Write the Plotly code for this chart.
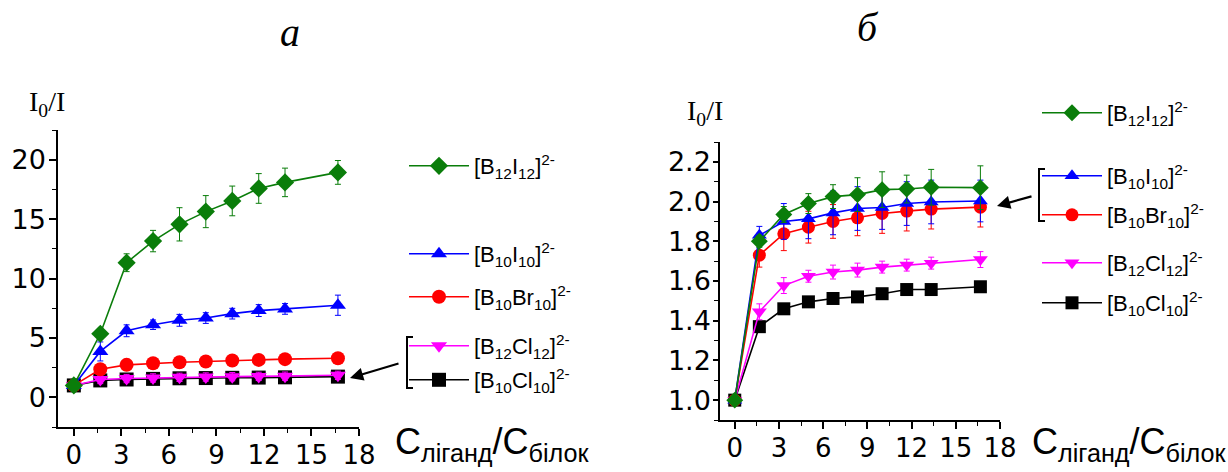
import plotly.graph_objects as go

W, H = 1228, 472

# ---- data ----
x_ratio = [0, 1.67, 3.33, 5, 6.67, 8.33, 10, 11.67, 13.33, 16.67]

names = ["[B<sub>12</sub>I<sub>12</sub>]<sup>2-</sup>",
         "[B<sub>10</sub>I<sub>10</sub>]<sup>2-</sup>",
         "[B<sub>10</sub>Br<sub>10</sub>]<sup>2-</sup>",
         "[B<sub>12</sub>Cl<sub>12</sub>]<sup>2-</sup>",
         "[B<sub>10</sub>Cl<sub>10</sub>]<sup>2-</sup>"]
colors = ["#0a7d0a", "#0000ff", "#ff0000", "#ff00ff", "#000000"]
symbols = ["diamond", "triangle-up", "circle", "triangle-down", "square"]

a_B12I12 = [1.0, 5.35, 11.33, 13.15, 14.56, 15.63, 16.53, 17.58, 18.09, 18.93]
a_B12I12_err = [0.2, 0.3, 0.75, 0.9, 1.4, 1.35, 1.25, 1.25, 1.2, 1.0]
a_B10I10 = [1.0, 3.86, 5.6, 6.11, 6.48, 6.67, 7.04, 7.3, 7.44, 7.75]
a_B10I10_err = [0.3, 0.8, 0.5, 0.4, 0.5, 0.45, 0.45, 0.5, 0.45, 0.85]
a_B10Br10 = [1.0, 2.36, 2.73, 2.87, 2.95, 3.01, 3.1, 3.15, 3.21, 3.29]
a_B10Br10_err = [0.1, 0.3, 0.2, 0.2, 0.2, 0.2, 0.2, 0.2, 0.2, 0.2]
a_B12Cl12 = [1.0, 1.5, 1.58, 1.63, 1.68, 1.71, 1.74, 1.76, 1.78, 1.85]
a_B12Cl12_err = [0.2, 0.35, 0.35, 0.35, 0.35, 0.35, 0.35, 0.35, 0.35, 0.35]
a_B10Cl10 = [1.0, 1.42, 1.5, 1.55, 1.6, 1.62, 1.64, 1.66, 1.68, 1.74]
a_B10Cl10_err = [0.1, 0.1, 0.1, 0.1, 0.1, 0.1, 0.1, 0.1, 0.1, 0.1]

b_B12I12 = [1.0, 1.80, 1.935, 1.99, 2.025, 2.035, 2.06, 2.063, 2.072, 2.07]
b_B12I12_err = [0.01, 0.03, 0.04, 0.05, 0.06, 0.085, 0.09, 0.07, 0.09, 0.11]
b_B10I10 = [1.0, 1.83, 1.90, 1.913, 1.943, 1.965, 1.97, 1.99, 1.998, 2.003]
b_B10I10_err = [0.01, 0.045, 0.09, 0.1, 0.11, 0.11, 0.11, 0.11, 0.11, 0.105]
b_B10Br10 = [1.0, 1.73, 1.838, 1.871, 1.90, 1.918, 1.94, 1.952, 1.962, 1.972]
b_B10Br10_err = [0.01, 0.06, 0.085, 0.08, 0.085, 0.09, 0.1, 0.1, 0.1, 0.1]
b_B12Cl12 = [1.0, 1.445, 1.577, 1.624, 1.645, 1.655, 1.67, 1.68, 1.69, 1.708]
b_B12Cl12_err = [0.01, 0.04, 0.04, 0.03, 0.035, 0.035, 0.03, 0.03, 0.03, 0.04]
b_B10Cl10 = [1.0, 1.37, 1.46, 1.495, 1.512, 1.52, 1.536, 1.557, 1.557, 1.571]
b_B10Cl10_err = [0.005, 0.01, 0.01, 0.01, 0.01, 0.01, 0.01, 0.01, 0.01, 0.01]

panel_a = [(a_B12I12, a_B12I12_err), (a_B10I10, a_B10I10_err), (a_B10Br10, a_B10Br10_err),
           (a_B12Cl12, a_B12Cl12_err), (a_B10Cl10, a_B10Cl10_err)]
panel_b = [(b_B12I12, b_B12I12_err), (b_B10I10, b_B10I10_err), (b_B10Br10, b_B10Br10_err),
           (b_B12Cl12, b_B12Cl12_err), (b_B10Cl10, b_B10Cl10_err)]

# legend item vertical pixel positions (centre of the symbol)
leg_a_y = [166, 254, 297, 346, 380]
leg_b_y = [113, 176, 215, 263, 303]

SANS = "Liberation Sans, Arial, sans-serif"
TICKS = "DejaVu Sans, sans-serif"
SERIF = "Liberation Serif, Times New Roman, serif"

fig = go.Figure()

def px_x(p):
    return p / W

def px_y(p):
    return 1 - p / H

draw_order = [4, 3, 2, 1, 0]
legends = {}
for panel, (data, xa, ya, leg_y, leg_x, msize) in enumerate([
        (panel_a, "x", "y", leg_a_y, 404, 14),
        (panel_b, "x2", "y2", leg_b_y, 1037, 13)]):
    for i in draw_order:
        yv, ev = data[i]
        k = panel * 5 + i
        lname = "legend" if k == 0 else f"legend{k + 1}"
        fig.add_trace(go.Scatter(
            x=x_ratio, y=yv, xaxis=xa, yaxis=ya, name=names[i],
            mode="lines+markers",
            line=dict(color=colors[i], width=1.6),
            marker=dict(symbol=symbols[i], size=msize, color=colors[i]),
            error_y=dict(type="data", array=ev, visible=True, color=colors[i],
                         thickness=1, width=3),
            legend=lname, showlegend=True))
        legends[lname] = dict(
            xref="container", yref="container",
            x=px_x(leg_x), y=px_y(leg_y[i]), xanchor="left", yanchor="middle",
            bgcolor="rgba(0,0,0,0)", borderwidth=0, itemwidth=60,
            font=dict(family=SANS, size=22, color="black"),
            tracegroupgap=0, itemclick=False)

axis_common = dict(showline=True, linecolor="black", linewidth=1.5, ticks="outside",
                   tickwidth=1.5, tickcolor="black", showgrid=False,
                   zeroline=False, mirror=False)
minor_common = dict(ticks="outside", ticklen=4, tickcolor="black", tickwidth=1.2)
xfont = dict(family=TICKS, size=26, color="black")
yfont = dict(family=TICKS, size=27, color="black")

fig.update_layout(
    width=W, height=H, plot_bgcolor="white", paper_bgcolor="white",
    margin=dict(l=0, r=0, t=0, b=0, autoexpand=False),
    xaxis=dict(domain=[px_x(58), px_x(359)], range=[-1, 18], tickvals=[0, 3, 6, 9, 12, 15, 18],
               ticklen=7, ticklabelstandoff=-3, tickfont=xfont,
               minor=dict(dtick=1.5, tick0=0, **minor_common), anchor="y", **axis_common),
    yaxis=dict(domain=[px_y(427), px_y(130)], range=[-2.5, 22.5], tickvals=[0, 5, 10, 15, 20],
               ticklen=7, ticklabelstandoff=-2, tickfont=yfont,
               minor=dict(dtick=2.5, tick0=0, **minor_common), anchor="x", **axis_common),
    xaxis2=dict(domain=[px_x(720), px_x(1000)], range=[-1, 18], tickvals=[0, 3, 6, 9, 12, 15, 18],
                ticklen=7, ticklabelstandoff=-3, tickfont=xfont,
                minor=dict(dtick=1.5, tick0=0, **minor_common), anchor="y2", **axis_common),
    yaxis2=dict(domain=[px_y(420), px_y(142)], range=[0.9, 2.3],
                tickvals=[1.0, 1.2, 1.4, 1.6, 1.8, 2.0, 2.2], tickformat=".1f",
                ticklen=5, ticklabelstandoff=-3, tickfont=yfont,
                minor=dict(dtick=0.1, tick0=0, **minor_common), anchor="x2", **axis_common),
    **legends,
)

ann = []
# panel labels
for txt, xc, yc in [("<i>а</i>", 290, 32), ("<i>б</i>", 868, 28)]:
    ann.append(dict(text=txt, x=px_x(xc), y=px_y(yc), xref="paper", yref="paper",
                    xanchor="center", yanchor="middle",
                    showarrow=False, font=dict(family=SERIF, size=40, color="black")))
# y titles
for xc, yc in [(47, 104), (705, 112)]:
    ann.append(dict(text="I<sub>0</sub>/I", x=px_x(xc), y=px_y(yc), xref="paper", yref="paper",
                    xanchor="center", yanchor="middle",
                    showarrow=False, font=dict(family=SERIF, size=28, color="black")))
# x titles
for xl in [393, 1030]:
    ann.append(dict(text="C<sub>ліганд</sub>/C<sub>білок</sub>", x=px_x(xl), y=px_y(444),
                    xref="paper", yref="paper", xanchor="left", yanchor="middle",
                    showarrow=False, font=dict(family=SANS, size=36, color="black")))
# arrows
ann.append(dict(x=px_x(350), y=px_y(378), xref="paper", yref="paper", ax=50, ay=-15,
                showarrow=True, arrowhead=2, arrowsize=1.2, arrowwidth=2.2, arrowcolor="black", text=""))
ann.append(dict(x=px_x(997), y=px_y(206), xref="paper", yref="paper", ax=36, ay=-10,
                showarrow=True, arrowhead=2, arrowsize=1.2, arrowwidth=2.2, arrowcolor="black", text=""))
fig.update_layout(annotations=ann)

# brackets
def bracket(xp, y0, y1, w=6):
    return dict(type="path", xref="paper", yref="paper",
                path=f"M {px_x(xp + w)} {px_y(y0)} L {px_x(xp)} {px_y(y0)} L {px_x(xp)} {px_y(y1)} L {px_x(xp + w)} {px_y(y1)}",
                line=dict(color="black", width=2))

fig.update_layout(shapes=[bracket(407, 337, 388), bracket(1039, 169, 221)])

fig.write_html("out.html", config={"displayModeBar": False},
               post_script="document.body.style.margin='0';document.body.style.overflow='hidden';")
